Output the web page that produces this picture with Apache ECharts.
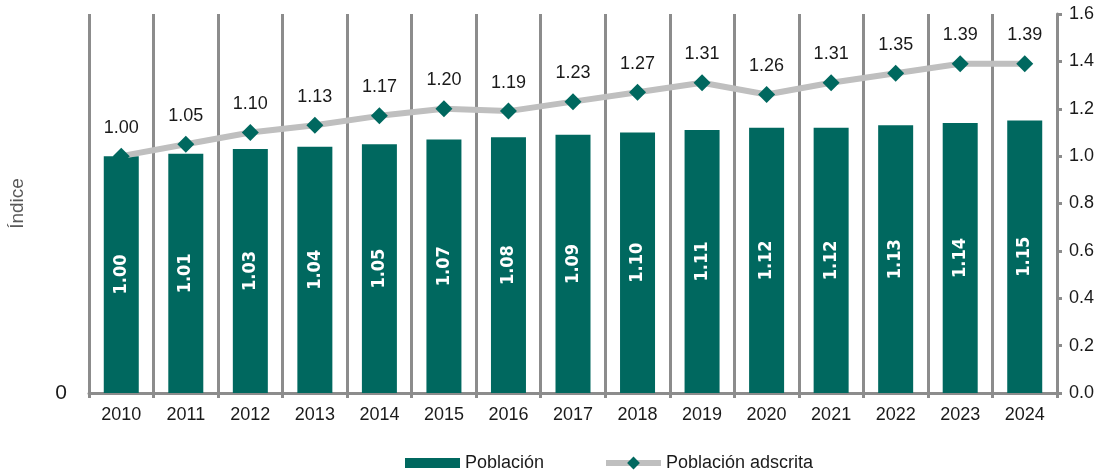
<!DOCTYPE html>
<html>
<head>
<meta charset="utf-8">
<script src="https://cdn.jsdelivr.net/npm/echarts@6/dist/echarts.min.js"></script>
<style>
  html, body { margin: 0; padding: 0; background: #fff; }
  #chart { width: 1109px; height: 476px; }
</style>
</head>
<body>
<div id="chart"></div>
<script>
const years = ['2010', '2011', '2012', '2013', '2014', '2015', '2016', '2017', '2018', '2019', '2020', '2021', '2022', '2023', '2024']
const poblacion = [1.00, 1.01, 1.03, 1.04, 1.05, 1.07, 1.08, 1.09, 1.10, 1.11, 1.12, 1.12, 1.13, 1.14, 1.15]
const adscrita = [1.00, 1.05, 1.10, 1.13, 1.17, 1.20, 1.19, 1.23, 1.27, 1.31, 1.26, 1.31, 1.35, 1.39, 1.39]

const teal = '#00685f'
const gridGray = '#8c8c8c'
const font = 'Liberation Sans, Arial, sans-serif'

const chart = echarts.init(document.getElementById('chart'))
chart.setOption({
  animation: false,
  textStyle: { fontFamily: font },
  grid: { left: 88, right: 52, top: 14, bottom: 83, containLabel: false },
  legend: [
    {
      top: 449,
      left: 400,
      itemWidth: 55,
      itemHeight: 10,
      icon: 'rect',
      textStyle: { fontSize: 18, color: '#1a1a1a', fontFamily: font },
      data: ['Población']
    },
    {
      top: 449,
      left: 598,
      itemWidth: 55,
      itemHeight: 16,
      textStyle: { fontSize: 18, color: '#1a1a1a', fontFamily: font },
      data: [{ name: 'Población adscrita', lineStyle: { width: 6, color: '#bfbfbf' } }]
    }
  ],
  xAxis: {
    type: 'category',
    data: years,
    axisLine: { lineStyle: { color: gridGray, width: 3 } },
    axisTick: { show: true, length: 5, lineStyle: { color: gridGray, width: 3 } },
    axisLabel: { fontSize: 18, color: '#1a1a1a', margin: 13 },
    splitLine: { show: true, lineStyle: { color: gridGray, width: 3 } }
  },
  yAxis: [
    {
      type: 'value',
      min: 0,
      max: 1.6,
      interval: 0.2,
      name: 'Índice',
      nameLocation: 'middle',
      nameRotate: 90,
      nameGap: 62,
      nameTextStyle: { fontSize: 19, color: '#595959' },
      axisLine: { show: false },
      axisTick: { show: false },
      splitLine: { show: false },
      axisLabel: {
        fontSize: 21,
        color: '#1a1a1a',
        margin: 22,
        formatter: v => (v === 0 ? '0' : '')
      }
    },
    {
      type: 'value',
      min: 0,
      max: 1.6,
      interval: 0.2,
      position: 'right',
      axisLine: { show: true, lineStyle: { color: gridGray, width: 3 } },
      axisTick: { show: true, length: 5, lineStyle: { color: gridGray, width: 3 } },
      splitLine: { show: false },
      axisLabel: {
        fontSize: 18,
        color: '#1a1a1a',
        margin: 12,
        formatter: v => v.toFixed(1)
      }
    }
  ],
  series: [
    {
      name: 'Población',
      type: 'bar',
      yAxisIndex: 1,
      data: poblacion,
      barWidth: 35,
      itemStyle: { color: teal },
      label: {
        show: true,
        position: 'inside',
        rotate: 90,
        color: '#fff',
        fontWeight: 'bold',
        fontSize: 18,
        fontFamily: 'DejaVu Sans Condensed, DejaVu Sans, sans-serif',
        formatter: p => p.value.toFixed(2)
      }
    },
    {
      name: 'Población adscrita',
      type: 'line',
      yAxisIndex: 1,
      data: adscrita,
      symbol: 'diamond',
      symbolSize: 17,
      itemStyle: { color: teal },
      lineStyle: { color: '#bfbfbf', width: 6 },
      label: {
        show: true,
        position: 'top',
        distance: 11,
        fontSize: 18,
        color: '#1a1a1a',
        formatter: p => p.value.toFixed(2)
      },
      z: 3
    }
  ]
})
</script>
</body>
</html>
